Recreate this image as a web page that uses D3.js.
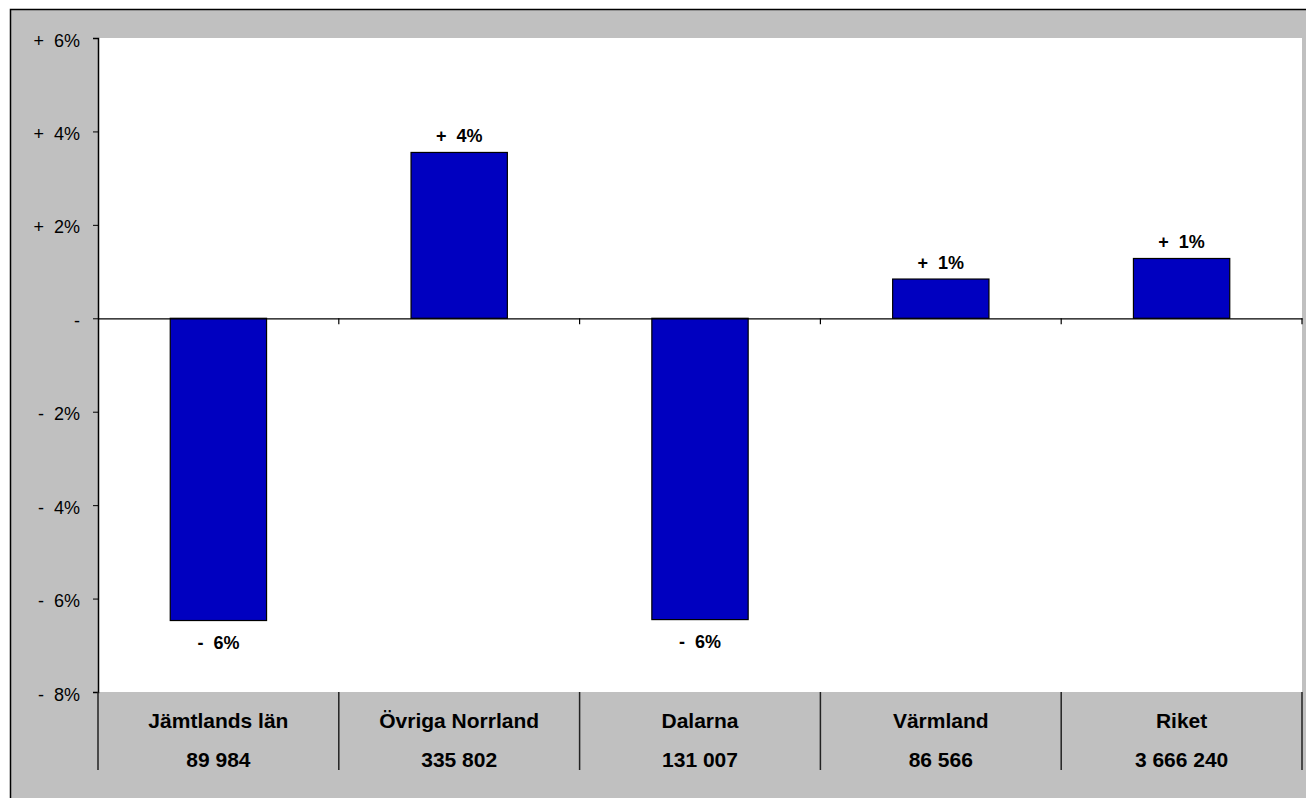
<!DOCTYPE html>
<html><head><meta charset="utf-8">
<script src="https://cdn.jsdelivr.net/npm/d3@7"></script>
<style>body{margin:0;background:#fff;overflow:hidden}svg{display:block}</style>
</head><body>
<svg id="c" width="1306" height="798"></svg>
<script>
const categories = ["Jämtlands län","Övriga Norrland","Dalarna","Värmland","Riket"];
const populations = ["89 984","335 802","131 007","86 566","3 666 240"];
const values = [-6.47, 3.55, -6.45, 0.84, 1.28];
const valueLabels = ["-  6%","+  4%","-  6%","+  1%","+  1%"];
const yTicks = [6,4,2,0,-2,-4,-6,-8];
const yTickLabels = ["+  6%","+  4%","+  2%","-","-  2%","-  4%","-  6%","-  8%"];

const FONT = "Arial, 'Liberation Sans', sans-serif";
const svg = d3.select("#c");
const L=98, R=1302, T=38, B=692;
const x = d3.scaleBand().domain(categories).range([L,R]).paddingInner(0).paddingOuter(0);
const y = d3.scaleLinear().domain([-8,6]).range([B,T]);

// outer panel
svg.append("rect").attr("x",10.5).attr("y",9.5).attr("width",1400).attr("height",900)
  .attr("fill","#c0c0c0").attr("stroke","#000").attr("stroke-width",1.5);
// plot area
svg.append("rect").attr("x",L).attr("y",T).attr("width",R-L).attr("height",B-T).attr("fill","#fff");

// y axis
const yAxis = d3.axisLeft(y).tickValues(yTicks).tickSize(5).tickPadding(13)
  .tickFormat((d,i)=>yTickLabels[i]);
const ya = svg.append("g").attr("transform",`translate(${L},0)`).call(yAxis);
ya.attr("font-size",null).attr("font-family",null);
ya.select(".domain").attr("stroke","#000").attr("stroke-width",1.5);
ya.selectAll(".tick line").attr("stroke","#000");
ya.selectAll("text").attr("font-family",FONT).attr("font-size",18).attr("fill","#000")
  .attr("dy","0.45em").style("white-space","pre");

// bars
const bw = x.bandwidth()*0.4;
svg.selectAll(".bar").data(values).enter().append("rect")
  .attr("x",(d,i)=>x(categories[i])+x.bandwidth()/2-bw/2)
  .attr("y",d=>y(Math.max(0,d)))
  .attr("width",bw)
  .attr("height",d=>Math.abs(y(d)-y(0)))
  .attr("fill","#0000c0").attr("stroke","#000").attr("stroke-width",1.2);

// zero line with ticks
const xAxis = d3.axisBottom(x).tickSize(0).tickFormat("");
const xa = svg.append("g").attr("transform",`translate(0,${y(0)})`).call(xAxis);
xa.select(".domain").attr("stroke","#000").attr("stroke-width",1.2);
const bounds = categories.map(c=>x(c)+x.bandwidth());
svg.selectAll(".zt").data(bounds).enter().append("line")
  .attr("x1",d=>d).attr("x2",d=>d).attr("y1",y(0)).attr("y2",y(0)+6)
  .attr("stroke","#000").attr("stroke-width",1.2);

// value labels
svg.selectAll(".vl").data(values).enter().append("text")
  .attr("x",(d,i)=>x(categories[i])+x.bandwidth()/2)
  .attr("y",d=> d>=0 ? y(d)-10 : y(d)+28)
  .attr("text-anchor","middle")
  .attr("font-family",FONT).attr("font-size",18).attr("font-weight","bold")
  .style("white-space","pre")
  .text((d,i)=>valueLabels[i]);

// category table separators
const seps = [L].concat(bounds);
svg.selectAll(".sep").data(seps).enter().append("line")
  .attr("x1",d=>d).attr("x2",d=>d).attr("y1",B).attr("y2",770)
  .attr("stroke","#222").attr("stroke-width",1.5);

svg.selectAll(".cn").data(categories).enter().append("text")
  .attr("x",d=>x(d)+x.bandwidth()/2).attr("y",728)
  .attr("text-anchor","middle")
  .attr("font-family",FONT).attr("font-size",21).attr("font-weight","bold")
  .text(d=>d);
svg.selectAll(".pn").data(populations).enter().append("text")
  .attr("x",(d,i)=>x(categories[i])+x.bandwidth()/2).attr("y",767)
  .attr("text-anchor","middle")
  .attr("font-family",FONT).attr("font-size",21).attr("font-weight","bold")
  .text(d=>d);
</script>
</body></html>
